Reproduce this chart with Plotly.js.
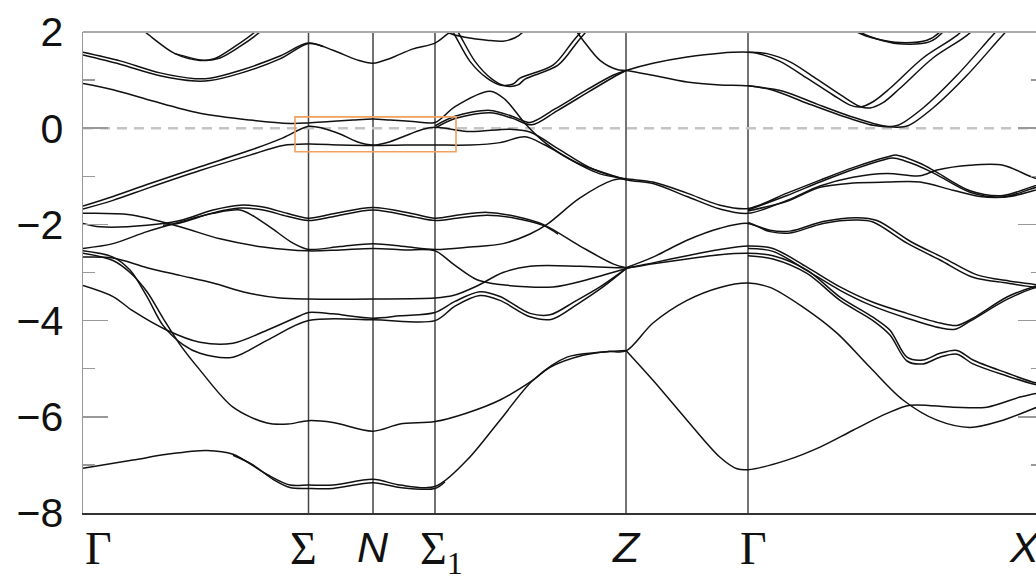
<!DOCTYPE html>
<html>
<head>
<meta charset="utf-8">
<script src="https://cdn.plot.ly/plotly-3.0.1.min.js"></script>
<style>
html,body{margin:0;padding:0;overflow:hidden;background:#fff;}
#chart{width:1050px;height:579px;}
</style>
</head>
<body>
<div id="chart"></div>
<script>
// ---- DATA ----
// path coordinate of high-symmetry points and their labels
const kTicks = [0, 225.5, 290, 352, 543, 665, 960];
const kLabels = ['Γ', 'Σ', '<i>N</i>', 'Σ<sub>1</sub>', '<i>Z</i>', 'Γ', '<i>X</i>'];
const yTicks = [2, 0, -2, -4, -6, -8];
const fermiLevel = 0;
const highlightK = [212, 373];
const highlightE = [-0.49, 0.235];

// bands: [k, E(eV)] pairs
const bandA1 = [[37,2.4],[62,2.0],[92,1.55],[117,1.41],[132,1.45],[152,1.7],[172,2.0],[187,2.3]];
const bandA2 = [[92,1.55],[122,1.41],[137,1.46],[157,1.7],[177,2.0],[192,2.3]];
const bandB1 = [[0,1.58],[37,1.4],[77,1.15],[112,1.03],[127,1.04],[157,1.2],[197,1.5],[225.5,1.77],[250,1.62],[274,1.42],[290,1.35],[307,1.45],[330,1.65],[352,1.77],[364,1.95],[374,2.1],[385,2.3]];
const bandB2 = [[0,1.52],[37,1.33],[77,1.09],[112,0.98],[127,0.99],[157,1.14],[197,1.44],[225.5,1.76],[240,1.7]];
const bandC = [[0,0.93],[30,0.8],[67,0.58],[117,0.31],[167,0.17],[207,0.1],[225.5,0.11],[247,0.14],[270,0.17],[290,0.19],[307,0.17],[330,0.14],[352,0.12],[372,0.45],[407,0.77],[422,0.6],[442,0.1],[462,-0.3],[487,-0.65],[517,-0.95],[543,-1.05],[570,-1.12],[604,-1.35],[637,-1.6],[665,-1.67],[704,-1.35],[737,-1.08],[770,-0.82],[804,-0.6],[814,-0.56],[837,-0.73],[854,-0.92],[887,-1.3],[920,-1.4],[947,-1.23],[960,-1.15]];
const bandC2 = [[665,-1.7],[704,-1.4],[737,-1.12],[770,-0.86],[800,-0.66],[810,-0.62],[835,-0.78],[854,-0.97],[887,-1.33],[920,-1.43],[947,-1.27],[960,-1.18]];
const bandD1 = [[0,-1.62],[30,-1.42],[67,-1.15],[117,-0.8],[167,-0.46],[200,-0.2],[225.5,0.04],[240,0.0],[257,-0.12],[274,-0.28],[290,-0.35],[307,-0.28],[327,-0.12],[340,-0.02],[352,0.02],[387,-0.07],[427,-0.02],[447,-0.08],[477,-0.45],[507,-0.82],[543,-1.07],[570,-1.15],[604,-1.42],[637,-1.68],[665,-1.77],[704,-1.5],[737,-1.2],[770,-1.02],[804,-0.94],[837,-0.99],[854,-0.87],[887,-0.77],[920,-0.77],[947,-1.0],[960,-1.1]];
const bandD2 = [[0,-1.68],[30,-1.5],[67,-1.23],[117,-0.88],[167,-0.56],[200,-0.36],[225.5,-0.33],[257,-0.35],[290,-0.36],[322,-0.35],[352,-0.35],[387,-0.35],[417,-0.3],[442,-0.18],[462,-0.35],[497,-0.75],[543,-1.07]];
const bandE3 = [[665,-1.72],[704,-1.52],[737,-1.23],[770,-1.14],[804,-1.12],[837,-1.12],[870,-1.29],[897,-1.42],[927,-1.42],[950,-1.3],[960,-1.25]];
const bandQ1 = [[352,0.05],[372,0.25],[407,0.37],[429,0.25],[447,0.12],[472,0.4],[504,0.8],[530,1.1],[543,1.2],[570,1.35],[604,1.48],[637,1.56],[665,1.58],[674,1.56],[697,1.39],[724,1.04],[750,0.69],[767,0.48],[777,0.44],[790,0.55],[807,0.83],[840,1.46],[874,1.93],[890,2.25]];
const bandQ2 = [[352,0.0],[372,0.2],[407,0.32],[429,0.21],[449,0.07],[474,0.36],[506,0.76],[532,1.08],[543,1.2]];
const bandV1b = [[665,1.58],[684,1.55],[707,1.38],[734,1.02],[760,0.66],[777,0.45],[787,0.42],[800,0.53],[817,0.83],[850,1.46],[884,1.93],[900,2.25]];
const bandL1a = [[357,2.4],[370,2.0],[387,1.39],[404,1.04],[417,0.9],[430,0.92],[437,1.04],[470,1.31],[490,1.81],[500,2.05]];
const bandL1b = [[362,2.4],[375,2.0],[392,1.39],[409,1.02],[422,0.88],[435,0.9],[442,1.02],[475,1.31],[495,1.81],[505,2.05]];
const bandL3 = [[480,2.4],[494,2.0],[500,1.83],[517,1.41],[534,1.22],[543,1.2],[570,1.1],[604,0.96],[637,0.9],[665,0.88],[690,0.79],[724,0.52],[757,0.27],[790,0.06],[804,0.03],[815,0.06],[840,0.42],[874,1.1],[907,1.87],[917,2.1]];
const bandV2b = [[665,0.88],[700,0.77],[734,0.5],[767,0.25],[800,0.05],[814,0.02],[825,0.05],[850,0.42],[884,1.1],[917,1.87],[927,2.1]];
const bandT = [[350,2.3],[364,2.0],[385,1.88],[404,1.83],[420,1.81],[432,1.88],[440,2.0],[450,2.3]];
const bandT2a = [[757,2.3],[774,2.0],[795,1.85],[817,1.78],[844,1.83],[857,2.0],[867,2.3]];
const bandT2b = [[760,2.3],[777,2.0],[800,1.82],[820,1.75],[847,1.8],[860,2.0],[870,2.3]];
const bandE = [[0,-1.77],[47,-1.8],[97,-2.05],[137,-2.3],[180,-2.47],[225.5,-2.55],[257,-2.53],[290,-2.5],[322,-2.53],[352,-2.55],[370,-2.82],[394,-3.15],[417,-3.25],[470,-3.3],[504,-3.15],[543,-2.92],[570,-2.8],[604,-2.65],[637,-2.52],[665,-2.45],[690,-2.5],[724,-2.89],[757,-3.3],[790,-3.62],[824,-3.85],[857,-4.05],[874,-4.1],[890,-3.95],[924,-3.51],[950,-3.3],[960,-3.25]];
const bandE2 = [[665,-2.5],[690,-2.56],[724,-2.96],[757,-3.37],[790,-3.7],[824,-3.95],[857,-4.15],[872,-4.18],[888,-4.0],[924,-3.56],[950,-3.33],[960,-3.28]];
const bandF1 = [[0,-1.98],[17,-2.05],[64,-2.02],[97,-1.92],[130,-1.7],[157,-1.6],[180,-1.64],[204,-1.77],[225.5,-1.87],[250,-1.78],[290,-1.65],[330,-1.78],[352,-1.87],[377,-1.8],[404,-1.75],[432,-1.83],[460,-2.0],[497,-2.45],[530,-2.82],[543,-2.9]];
const bandF1b = [[80,-2.02],[97,-1.97],[130,-1.76],[157,-1.66],[180,-1.7],[204,-1.83],[225.5,-1.92],[250,-1.84],[290,-1.7],[330,-1.84],[352,-1.92],[377,-1.86],[404,-1.81],[432,-1.87],[460,-2.02],[475,-2.2]];
const bandR = [[543,-2.9],[570,-2.68],[604,-2.33],[637,-2.08],[665,-1.98],[687,-2.15],[707,-2.18],[740,-1.98],[774,-1.91],[790,-1.95],[824,-2.39],[857,-2.74],[890,-3.1],[924,-3.22],[950,-3.3],[960,-3.3]];
const bandR2 = [[665,-1.96],[687,-2.12],[707,-2.14],[740,-1.94],[774,-1.86],[794,-1.92],[828,-2.36],[861,-2.7],[894,-3.05],[927,-3.18],[960,-3.27]];
const bandF2 = [[0,-2.5],[30,-2.4],[64,-2.15],[97,-1.95],[130,-1.77],[157,-1.7],[170,-1.82],[190,-2.1],[210,-2.39],[225.5,-2.52],[257,-2.46],[290,-2.4],[322,-2.46],[352,-2.52],[387,-2.47],[420,-2.4],[447,-2.2],[464,-2.0],[497,-1.45],[530,-1.08],[543,-1.05]];
const bandI = [[0,-2.68],[30,-2.7],[64,-2.9],[97,-3.06],[130,-3.22],[164,-3.42],[197,-3.53],[225.5,-3.55],[290,-3.55],[352,-3.53],[370,-3.48],[394,-3.28],[420,-3.0],[447,-2.87],[497,-2.87],[543,-2.9],[570,-2.82],[604,-2.72],[637,-2.63],[665,-2.6],[690,-2.65],[724,-2.95],[757,-3.51],[790,-3.93],[807,-4.2],[824,-4.76],[840,-4.82],[857,-4.68],[874,-4.62],[890,-4.82],[924,-5.09],[950,-5.28],[960,-5.32]];
const bandI2 = [[665,-2.65],[690,-2.72],[724,-3.02],[757,-3.58],[790,-4.0],[807,-4.3],[824,-4.84],[840,-4.9],[857,-4.76],[874,-4.7],[890,-4.9],[924,-5.15],[950,-5.32],[960,-5.36]];
const bandG1 = [[0,-3.27],[30,-3.5],[50,-3.8],[84,-4.2],[117,-4.45],[150,-4.47],[184,-4.2],[217,-3.9],[225.5,-3.83],[250,-3.86],[290,-3.95],[317,-3.9],[352,-3.83],[372,-3.6],[397,-3.4],[417,-3.5],[447,-3.85],[467,-3.88],[492,-3.6],[517,-3.3],[543,-2.92]];
const bandG2 = [[0,-2.55],[30,-2.68],[47,-2.95],[64,-3.5],[80,-4.1],[100,-4.5],[117,-4.68],[150,-4.76],[184,-4.41],[225.5,-4.0],[290,-3.98],[352,-4.0],[372,-3.7],[397,-3.48],[417,-3.58],[447,-3.92],[469,-3.97],[495,-3.65],[520,-3.3],[543,-2.92]];
const bandH = [[0,-2.6],[30,-2.75],[47,-3.0],[64,-3.4],[80,-3.95],[97,-4.5],[117,-5.03],[150,-5.8],[184,-6.13],[205,-6.15],[225.5,-6.08],[250,-6.12],[290,-6.3],[317,-6.15],[352,-6.1],[384,-5.92],[417,-5.65],[450,-5.24],[467,-4.97],[500,-4.72],[525,-4.64],[543,-4.63],[570,-4.05],[604,-3.58],[637,-3.31],[665,-3.22],[687,-3.31],[720,-3.72],[754,-4.26],[787,-4.97],[820,-5.65],[854,-6.07],[887,-6.22],[920,-6.07],[954,-5.8],[960,-5.75]];
const bandW = [[0,-7.07],[50,-6.9],[84,-6.78],[124,-6.7],[150,-6.78],[184,-7.2],[207,-7.42],[225.5,-7.42],[250,-7.42],[290,-7.3],[317,-7.42],[352,-7.45],[384,-6.9],[417,-6.07],[450,-5.24],[484,-4.76],[517,-4.66],[543,-4.62]];
const bandW2 = [[150,-6.8],[170,-7.0],[190,-7.3],[207,-7.47],[225.5,-7.49],[250,-7.49],[290,-7.37],[317,-7.47],[352,-7.49],[362,-7.35]];
const bandW3 = [[543,-4.62],[570,-5.24],[604,-6.07],[637,-6.84],[654,-7.08],[665,-7.1],[704,-6.9],[737,-6.63],[770,-6.28],[804,-5.93],[827,-5.76],[870,-5.8],[904,-5.8],[937,-5.59],[954,-5.51],[960,-5.5]];

const allBands = [bandA1, bandA2, bandB1, bandB2, bandC, bandC2, bandD1, bandD2, bandE3,
  bandQ1, bandQ2, bandV1b, bandL1a, bandL1b, bandL3, bandV2b, bandT, bandT2a, bandT2b,
  bandE, bandE2, bandF1, bandF1b, bandR, bandR2, bandF2, bandI, bandI2, bandG1, bandG2,
  bandH, bandW, bandW2, bandW3];

// ---- TRACES ----
const traces = allBands.map(b => ({
  x: b.map(p => p[0]),
  y: b.map(p => p[1]),
  type: 'scatter',
  mode: 'lines',
  line: {color: '#111', width: 1.5, shape: 'spline', smoothing: 0.9},
  hoverinfo: 'skip',
  showlegend: false
}));

const shapes = [];
kTicks.slice(1, -1).forEach(k => shapes.push({
  type: 'line', xref: 'x', yref: 'paper', x0: k, x1: k, y0: 0, y1: 1,
  line: {color: '#444', width: 1.5}, layer: 'below'
}));
shapes.push({type: 'line', xref: 'paper', yref: 'y', x0: 0, x1: 1, y0: fermiLevel, y1: fermiLevel,
  line: {color: '#c4c4c4', width: 2.5, dash: '10px,7px'}, layer: 'below'});
shapes.push({type: 'line', xref: 'paper', yref: 'paper', x0: 0, x1: 1, y0: 1, y1: 1,
  line: {color: '#aaa', width: 2}});
shapes.push({type: 'rect', xref: 'x', yref: 'y', x0: highlightK[0], x1: highlightK[1],
  y0: highlightE[0], y1: highlightE[1], line: {color: '#f0a060', width: 1.6}, fillcolor: 'rgba(0,0,0,0)'});

const serif = 'Liberation Serif, Times New Roman, serif';
const sans = 'Liberation Sans, Arial, sans-serif';
const labelFonts = [serif, serif, sans, serif, sans, serif, sans];
const labelShift = [0, -5, 0, 6, 0, 5, 0];
const annotations = kTicks.map((k, i) => ({
  x: k, y: 0, xref: 'x', yref: 'paper',
  text: kLabels[i], showarrow: false,
  xanchor: i === 0 ? 'left' : (i === kTicks.length - 1 ? 'right' : 'center'),
  yanchor: 'top', yshift: -8, xshift: labelShift[i],
  font: {family: labelFonts[i], size: labelFonts[i] === serif ? 46 : 43, color: '#111'}
}));

const layout = {
  width: 1050, height: 579,
  margin: {l: 83, r: 7, t: 32, b: 66, pad: 0},
  paper_bgcolor: '#fff', plot_bgcolor: '#fff',
  showlegend: false,
  hovermode: false,
  xaxis: {range: [0, 960], showticklabels: false, ticks: '', showgrid: false, zeroline: false,
    showline: true, linecolor: '#333', linewidth: 2},
  yaxis: {range: [-8, 2], tickvals: yTicks, ticks: 'inside', ticklen: 25, tickwidth: 1.5, tickcolor: '#999',
    mirror: 'allticks', showline: true, linecolor: '#999', linewidth: 1.5,
    showgrid: false, zeroline: false, ticklabelstandoff: 10,
    minor: {dtick: 1, tick0: 0, ticks: 'inside', ticklen: 12, tickwidth: 1.5, tickcolor: '#999'},
    tickfont: {family: sans, size: 41, color: '#111'}},
  shapes: shapes,
  annotations: annotations
};

Plotly.newPlot('chart', traces, layout, {displayModeBar: false, staticPlot: true});
</script>
</body>
</html>
